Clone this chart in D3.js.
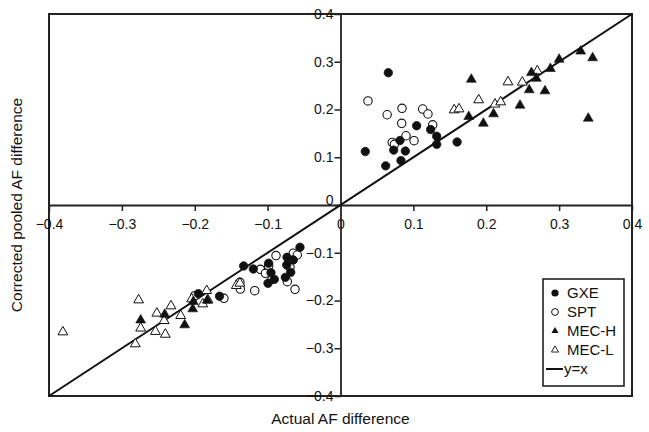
<!DOCTYPE html>
<html><head><meta charset="utf-8">
<script src="https://cdn.jsdelivr.net/npm/d3@7"></script>
<style>body{margin:0;background:#fff;} text{font-family:"Liberation Sans",Arial,sans-serif;fill:#111;}</style>
</head><body>
<svg id="c" width="649" height="432"></svg>
<script>
const xTicks = [-0.4,-0.3,-0.2,-0.1,0,0.1,0.2,0.3,0.4];
const yTicks = [-0.4,-0.3,-0.2,-0.1,0,0.1,0.2,0.3,0.4];
const gxe = [[0.0656,0.277],[0.034,0.112],[0.062,0.082],[0.073,0.115],[0.0816,0.135],[0.089,0.113],[0.083,0.093],[0.1045,0.166],[0.1237,0.158],[0.132,0.144],[0.132,0.127],[0.160,0.132],
 [-0.0556,-0.0886],[-0.0734,-0.1095],[-0.0648,-0.115],[-0.0738,-0.1257],[-0.0683,-0.141],[-0.0757,-0.1515],[-0.1329,-0.1277],[-0.1196,-0.134],[-0.0986,-0.122],[-0.0954,-0.1417],[-0.0908,-0.1557],[-0.0995,-0.164],[-0.195,-0.1857],[-0.166,-0.191]];
const spt = [[0.0377,0.218],[0.064,0.189],[0.0844,0.2025],[0.084,0.171],[0.071,0.131],[0.074,0.127],[0.0899,0.145],[0.1009,0.1347],[0.1128,0.201],[0.120,0.1906],[0.1265,0.168],
 [-0.0885,-0.106],[-0.0648,-0.101],[-0.0593,-0.1047],[-0.0693,-0.1305],[-0.110,-0.1347],[-0.0986,-0.1277],[-0.103,-0.143],[-0.094,-0.1557],[-0.073,-0.1606],[-0.0624,-0.1766],[-0.1177,-0.1794],[-0.138,-0.162],[-0.1375,-0.176],[-0.160,-0.1955],[-0.200,-0.190]];
const mecH = [[0.1795,0.263],[0.176,0.185],[0.196,0.171],[0.210,0.1906],[0.2463,0.2087],[0.259,0.241],[0.262,0.277],[0.2687,0.265],[0.2806,0.2387],[0.288,0.2855],[0.300,0.305],[0.3296,0.322],[0.346,0.308],[0.340,0.1815],
 [-0.2742,-0.241],[-0.2412,-0.229],[-0.2138,-0.2513],[-0.2028,-0.2178],[-0.202,-0.2025],[-0.1828,-0.1996]];
const mecL = [[0.156,0.199],[0.1626,0.201],[0.1896,0.220],[0.212,0.211],[0.2198,0.2157],[0.2298,0.2576],[0.2495,0.257],[0.270,0.2806],
 [-0.381,-0.266],[-0.277,-0.199],[-0.2742,-0.258],[-0.2816,-0.291],[-0.252,-0.2268],[-0.254,-0.265],[-0.2404,-0.271],[-0.242,-0.2423],[-0.2326,-0.2115],[-0.2193,-0.2318],[-0.2042,-0.1969],[-0.189,-0.2073],[-0.1836,-0.1794],[-0.1818,-0.199],[-0.143,-0.169],[-0.138,-0.164]];
const legendLabels = ["GXE","SPT","MEC-H","MEC-L","y=x"];

const svg = d3.select("#c");
const L=49, R=632, T=14, B=396;
const x = d3.scaleLinear().domain([-0.4,0.4]).range([L,R]);
const y = d3.scaleLinear().domain([-0.4,0.4]).range([B,T]);
const fmt = d => d===0 ? "0" : d3.format(".1f")(d);
const FF = "Liberation Sans, Arial, sans-serif";

svg.append("rect").attr("x",L).attr("y",T).attr("width",R-L).attr("height",B-T)
  .attr("fill","none").attr("stroke","#222").attr("stroke-width",2);

const xa = svg.append("g").attr("transform",`translate(0,${y(0)})`)
  .call(d3.axisBottom(x).tickValues(xTicks).tickSize(6).tickSizeOuter(0).tickFormat(fmt));
xa.select(".domain").attr("stroke","#222").attr("stroke-width",1.8);
xa.selectAll(".tick line").attr("stroke","#222").attr("stroke-width",1.5);
xa.selectAll(".tick text").attr("font-size",14).attr("y",11).attr("dy","0.9em").style("font-family",FF);
xa.selectAll(".tick").filter(d=>d===0).select("line").remove();

const ya = svg.append("g").attr("transform",`translate(${x(0)},0)`)
  .call(d3.axisLeft(y).tickValues(yTicks).tickSize(6).tickSizeOuter(0).tickFormat(fmt));
ya.select(".domain").attr("stroke","#222").attr("stroke-width",1.8);
ya.selectAll(".tick line").attr("stroke","#222").attr("stroke-width",1.5);
ya.selectAll(".tick text").attr("font-size",14).attr("x",-7).style("font-family",FF);
ya.selectAll(".tick").filter(d=>d===0).select("text").attr("dy","-0.05em");

svg.append("line").attr("x1",x(-0.4)).attr("y1",y(-0.4)).attr("x2",x(0.4)).attr("y2",y(0.4))
  .attr("stroke","#111").attr("stroke-width",2);

const tri = d3.symbol().type(d3.symbolTriangle).size(42);
const triS = d3.symbol().type(d3.symbolTriangle).size(22);
function circles(data, fill){
  svg.append("g").selectAll("circle").data(data).join("circle")
    .attr("cx",d=>x(d[0])).attr("cy",d=>y(d[1])).attr("r",4.2)
    .attr("fill",fill).attr("stroke","#111").attr("stroke-width",fill==="#fff"?1.1:0.8);
}
function tris(data, fill){
  svg.append("g").selectAll("path").data(data).join("path")
    .attr("d",tri).attr("transform",d=>`translate(${x(d[0])},${y(d[1])})`)
    .attr("fill",fill).attr("stroke","#111").attr("stroke-width",fill==="#fff"?1.0:0.6);
}
circles(spt,"#fff"); circles(gxe,"#111");
tris(mecL,"#fff"); tris(mecH,"#111");

const lg = svg.append("g");
lg.append("rect").attr("x",543).attr("y",279).attr("width",81).attr("height",107)
  .attr("fill","#fff").attr("stroke","#222").attr("stroke-width",1.6);
const ly = [293,312,331,350,369];
legendLabels.forEach((t,i)=>{
  const cy = ly[i];
  if(i===0) lg.append("circle").attr("cx",555).attr("cy",cy).attr("r",3.6).attr("fill","#111");
  if(i===1) lg.append("circle").attr("cx",555).attr("cy",cy).attr("r",3.4).attr("fill","#fff").attr("stroke","#111").attr("stroke-width",1);
  if(i===2) lg.append("path").attr("d",triS).attr("transform",`translate(555,${cy})`).attr("fill","#111");
  if(i===3) lg.append("path").attr("d",triS).attr("transform",`translate(555,${cy})`).attr("fill","#fff").attr("stroke","#111").attr("stroke-width",0.9);
  if(i===4) lg.append("line").attr("x1",546).attr("x2",563).attr("y1",cy).attr("y2",cy).attr("stroke","#111").attr("stroke-width",2);
  lg.append("text").attr("x",i===4?564:567).attr("y",cy).attr("dy","0.35em").attr("font-size",15).text(t);
});

svg.append("text").attr("x",x(0)).attr("y",424).attr("text-anchor","middle").attr("font-size",15.5).text("Actual AF difference");
svg.append("text").attr("transform",`translate(22,${y(0)}) rotate(-90)`).attr("text-anchor","middle").attr("font-size",15.5).text("Corrected pooled AF difference");
</script>
</body></html>
